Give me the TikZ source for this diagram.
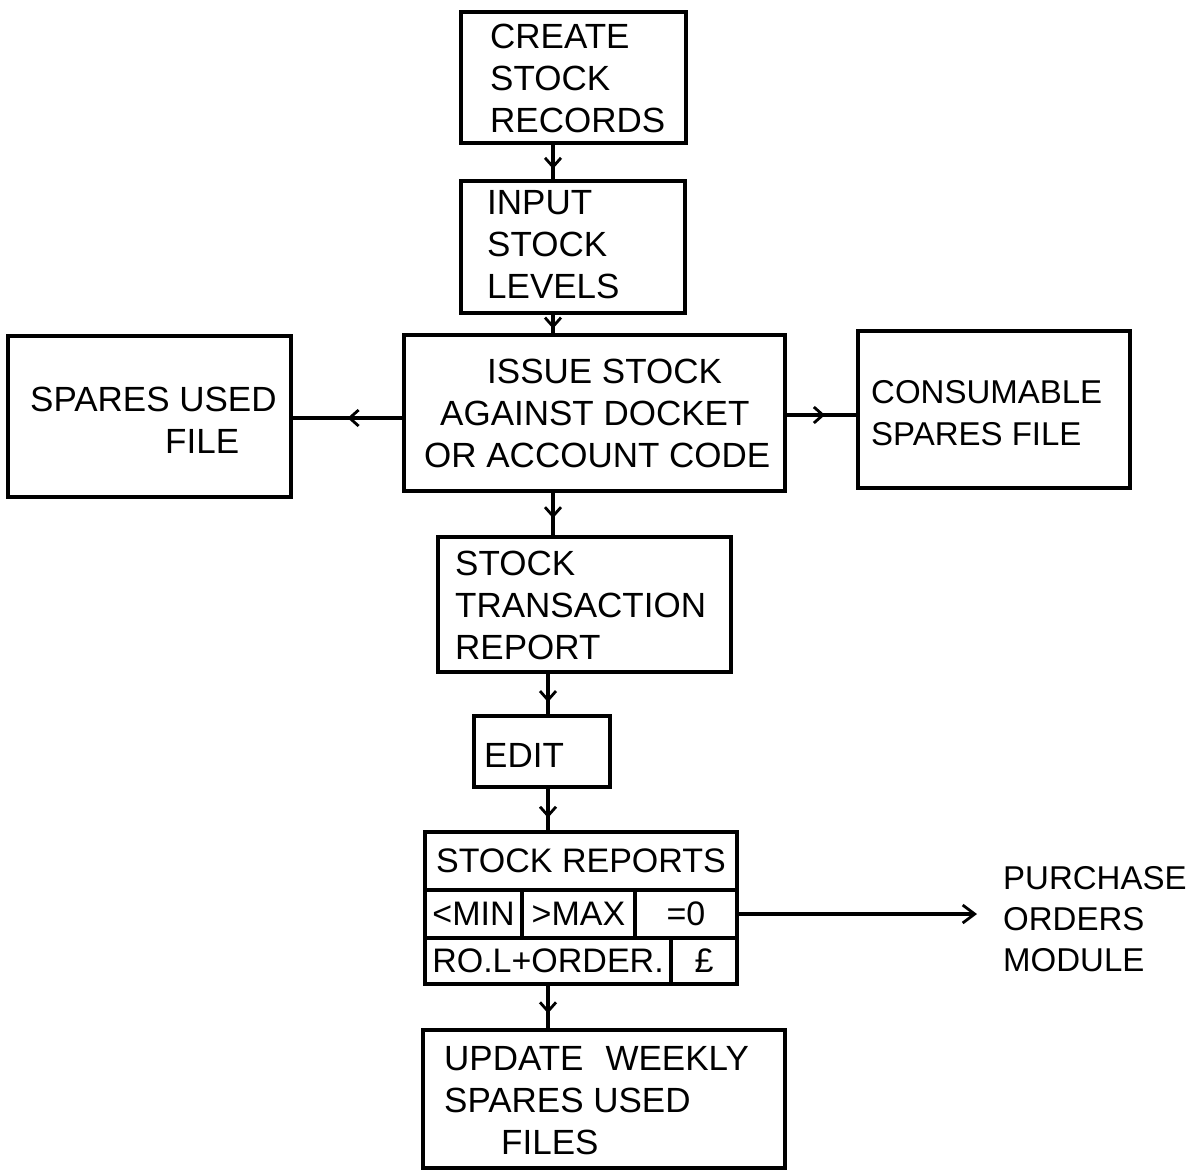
\documentclass[tikz,border=0pt]{standalone}
\usepackage{fontspec}
\setmainfont{Liberation Sans}
\usetikzlibrary{arrows.meta,decorations.markings}
\tikzset{
  box/.style={draw, line width=3.2pt, rectangle, inner sep=0pt, font=\fontsize{34}{42}\selectfont},
  txt/.style={anchor=west, align=left, inner sep=0pt, font=\fontsize{35}{42}\selectfont},
  conn/.style={line width=3.2pt},
  midarrow/.style={conn, postaction={decorate}, decoration={markings, mark=at position #1 with {\arrow{Straight Barb[length=9pt,width=16pt,line width=2.8pt]}}}},
  midarrow/.default=0.65,
  endarrow/.style={conn, -{Straight Barb[length=12pt,width=18pt,line width=2.8pt]}}
}
\begin{document}
\begin{tikzpicture}[x=1pt,y=-1pt]
\useasboundingbox (0,0) rectangle (1193,1170);
% boxes
\node[box, minimum width=225, minimum height=131] (create) at (573.5,77.5) {};
\node[box, minimum width=224, minimum height=132] (input) at (573,247) {};
\node[box, minimum width=381, minimum height=156] (issue) at (594.5,413) {};
\node[box, minimum width=283, minimum height=161] (spares) at (149.5,416.5) {};
\node[box, minimum width=272, minimum height=157] (cons) at (994,409.5) {};
\node[box, minimum width=293, minimum height=135] (trans) at (584.5,604.5) {};
\node[box, minimum width=136, minimum height=71] (edit) at (542,751.5) {};
\node[box, minimum width=312, minimum height=58] (sr) at (581,861) {STOCK REPORTS};
\node[box, minimum width=97, minimum height=48] (min) at (473.5,914) {<MIN};
\node[box, minimum width=113, minimum height=48] (max) at (578.5,914) {>MAX};
\node[box, minimum width=102, minimum height=48] (zero) at (686,914) {=0};
\node[box, minimum width=246, minimum height=46] (rol) at (548,961) {RO.L+ORDER.};
\node[box, minimum width=66, minimum height=46] (pound) at (704,961) {£};
\node[box, minimum width=362, minimum height=138] (update) at (604,1099) {};
% texts
\node[txt] (createT) at (490,78) {CREATE\\STOCK\\RECORDS};
\node[txt] (inputT) at (487,245) {INPUT\\STOCK\\LEVELS};
\node[txt] (issueT) at (424,413) {\hspace*{63pt}ISSUE STOCK\\\hspace*{16pt}AGAINST DOCKET\\OR ACCOUNT CODE};
\node[txt] (sparesT) at (30,420) {SPARES USED\\\hspace*{135pt}FILE};
\node[txt, font=\fontsize{33}{42}\selectfont] (consT) at (871,413) {CONSUMABLE\\SPARES FILE};
\node[txt] (transT) at (455,605) {STOCK\\TRANSACTION\\REPORT};
\node[txt] (editT) at (484,755) {EDIT};
\node[txt, font=\fontsize{33}{41}\selectfont] (purchase) at (1003,919) {PURCHASE\\ORDERS\\MODULE};
\node[txt] (updateT) at (444,1101) {UPDATE\hspace{22pt}WEEKLY\\SPARES USED\\\hspace*{57pt}FILES};
% connectors
\coordinate (xa) at (553,0);
\coordinate (xb) at (548,0);
\coordinate (ly) at (0,418);
\coordinate (ry) at (0,415);
\draw[midarrow=0.7] (create.south -| xa) -- (input.north -| xa);
\draw[midarrow=0.75] (input.south -| xa) -- (issue.north -| xa);
\draw[midarrow=0.6] (issue.south -| xa) -- (trans.north -| xa);
\draw[midarrow=0.7] (trans.south -| xb) -- (edit.north -| xb);
\draw[midarrow=0.7] (edit.south -| xb) -- (sr.north -| xb);
\draw[midarrow=0.65] (rol.south -| xb) -- (update.north -| xb);
\draw[midarrow=0.5] (issue.west |- ly) -- (spares.east |- ly);
\draw[midarrow=0.55] (issue.east |- ry) -- (cons.west |- ry);
\draw[endarrow, shorten >=26pt] (zero.east) -- (zero.east -| purchase.west);
\end{tikzpicture}
\end{document}
